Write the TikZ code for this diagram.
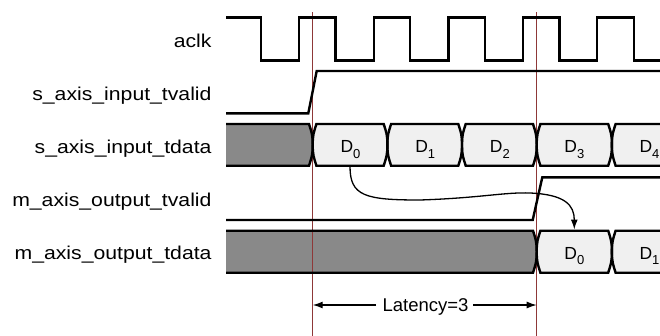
\documentclass[tikz,border=0pt]{standalone}
\usepackage{fontspec}
\setmainfont{Liberation Sans}
\usetikzlibrary{arrows.meta}
\definecolor{busgray}{HTML}{898989}
\definecolor{cellfill}{HTML}{F0F0F0}
\definecolor{markred}{HTML}{8E3838}
\newcommand{\buscell}[5]{%
 \pgfmathsetmacro{\bcM}{(#3+#4)/2}%
 \pgfmathsetmacro{\bcQ}{(#4-#3)/2}%
 \path[#5] (#1,\bcM) .. controls (#1,{\bcM-0.5*\bcQ}) and ({#1+1.1},{#3+0.4*\bcQ}) .. ({#1+3.7},#3)
 -- ({#2-3.7},#3) .. controls ({#2-1.1},{#3+0.4*\bcQ}) and (#2,{\bcM-0.5*\bcQ}) .. (#2,\bcM)
 .. controls (#2,{\bcM+0.5*\bcQ}) and ({#2-1.1},{#4-0.4*\bcQ}) .. ({#2-3.7},#4)
 -- ({#1+3.7},#4) .. controls ({#1+1.1},{#4-0.4*\bcQ}) and (#1,{\bcM+0.5*\bcQ}) .. (#1,\bcM) -- cycle;}
\newcommand{\busgrayfill}[4]{%
 \pgfmathsetmacro{\bcM}{(#3+#4)/2}%
 \pgfmathsetmacro{\bcQ}{(#4-#3)/2}%
 \path[fill=busgray] (#1,#3) -- ({#2-3.7},#3) .. controls ({#2-1.1},{#3+0.4*\bcQ}) and (#2,{\bcM-0.5*\bcQ}) .. (#2,\bcM)
 .. controls (#2,{\bcM+0.5*\bcQ}) and ({#2-1.1},{#4-0.4*\bcQ}) .. ({#2-3.7},#4) -- (#1,#4) -- cycle;}
\newcommand{\busgraydraw}[4]{%
 \pgfmathsetmacro{\bcM}{(#3+#4)/2}%
 \pgfmathsetmacro{\bcQ}{(#4-#3)/2}%
 \path[sig] (#1,#3) -- ({#2-3.7},#3) .. controls ({#2-1.1},{#3+0.4*\bcQ}) and (#2,{\bcM-0.5*\bcQ}) .. (#2,\bcM)
 .. controls (#2,{\bcM+0.5*\bcQ}) and ({#2-1.1},{#4-0.4*\bcQ}) .. ({#2-3.7},#4) -- (#1,#4);}
\newcommand{\Dsub}[1]{D\raisebox{-5.3bp}{\fontsize{13bp}{14bp}\selectfont #1}}
\tikzset{
 sig/.style={draw=black, line width=2.4bp, line join=miter},
 marker/.style={draw=markred, line width=1.5bp},
 siglabel/.style={anchor=base east, inner sep=0pt, font=\fontsize{18.6bp}{22bp}\selectfont},
 dlabel/.style={anchor=base, inner sep=0pt, font=\fontsize{17.5bp}{20bp}\selectfont},
 thinarrow/.style={draw=black, line width=1.3bp, -{Latex[length=10bp,width=7bp]}}
}
\begin{document}
\begin{tikzpicture}[x=1bp, y=-1bp]
\useasboundingbox (0,0) rectangle (660,335);
\clip (0,0) rectangle (660,335);

% labels
\node[siglabel] (lclk) at (211.7,47.3) {\scalebox{1.14}[1]{aclk}};
\node[siglabel] (lsv) at (211.7,100) {\scalebox{1.14}[1]{s\_axis\_input\_tvalid}};
\node[siglabel] (lsd) at (211.7,153) {\scalebox{1.14}[1]{s\_axis\_input\_tdata}};
\node[siglabel] (lmv) at (211.7,206.7) {\scalebox{1.14}[1]{m\_axis\_output\_tvalid}};
\node[siglabel] (lmd) at (211.7,259.5) {\scalebox{1.14}[1]{m\_axis\_output\_tdata}};

% fills
\busgrayfill{226}{312.7}{124}{165.7}
\buscell{312.7}{387.4}{124}{165.7}{fill=cellfill}
\buscell{387.4}{462.0}{124}{165.7}{fill=cellfill}
\buscell{462.0}{536.7}{124}{165.7}{fill=cellfill}
\buscell{536.7}{611.9}{124}{165.7}{fill=cellfill}
\buscell{611.9}{687}{124}{165.7}{fill=cellfill}
\busgrayfill{226}{536.7}{230.7}{272.7}
\buscell{536.7}{611.9}{230.7}{272.7}{fill=cellfill}
\buscell{611.9}{687}{230.7}{272.7}{fill=cellfill}

% red markers
\coordinate (m1t) at (312.7,12);
\coordinate (m1b) at (312.7,336);
\coordinate (m2t) at (536.7,12);
\coordinate (m2b) at (536.7,336);
\draw[marker] (m1t) -- (m1b);
\draw[marker] (m2t) -- (m2b);

% clock
\draw[sig] (226,17.5) -- (261,17.5) -- (261,60.5) -- (299,60.5) -- (299,17.5)
 -- (335.6,17.5) -- (335.6,60.5) -- (373.8,60.5) -- (373.8,17.5)
 -- (410.2,17.5) -- (410.2,60.5) -- (448.3,60.5) -- (448.3,17.5)
 -- (484.8,17.5) -- (484.8,60.5) -- (522.7,60.5) -- (522.7,17.5)
 -- (559.6,17.5) -- (559.6,60.5) -- (597.2,60.5) -- (597.2,17.5)
 -- (634,17.5) -- (634,60.5) -- (662,60.5);

% valids
\draw[sig] (226,113.3) -- (308.3,113.3) -- (316.7,71) -- (662,71);
\draw[sig] (226,220) -- (532.7,220) -- (542.3,177.3) -- (662,177.3);

% bus strokes
\busgraydraw{226}{312.7}{124}{165.7}
\buscell{312.7}{387.4}{124}{165.7}{sig}
\buscell{387.4}{462.0}{124}{165.7}{sig}
\buscell{462.0}{536.7}{124}{165.7}{sig}
\buscell{536.7}{611.9}{124}{165.7}{sig}
\buscell{611.9}{687}{124}{165.7}{sig}
\busgraydraw{226}{536.7}{230.7}{272.7}
\buscell{536.7}{611.9}{230.7}{272.7}{sig}
\buscell{611.9}{687}{230.7}{272.7}{sig}

% data labels
\node[dlabel] (sd0) at (350.5,152.7) {\Dsub{0}};
\node[dlabel] (sd1) at (425.2,152.7) {\Dsub{1}};
\node[dlabel] (sd2) at (499.8,152.7) {\Dsub{2}};
\node[dlabel] (sd3) at (574.3,152.7) {\Dsub{3}};
\node[dlabel] (sd4) at (649.5,152.7) {\Dsub{4}};
\node[dlabel] (md0) at (574.3,259.5) {\Dsub{0}};
\node[dlabel] (md1) at (649.5,259.5) {\Dsub{1}};

% data flow arrow
\coordinate (arrS) at (350,166.5);
\coordinate (arrE) at (574.3,229.5);
\draw[thinarrow] (arrS) .. controls (350,196) and (365,200) .. (420,200)
 .. controls (480,198) and (505,192) .. (530,193)
 .. controls (565,194.5) and (574.3,205) .. (arrE);

% latency
\node[anchor=base, inner sep=0pt, font=\fontsize{18.5bp}{22bp}\selectfont] (lat) at (425.5,311) {Latency=3};
\coordinate (latL) at (376,305);
\coordinate (latR) at (473,305);
\draw[thinarrow] (latL) -- (latL -| m1t);
\draw[thinarrow] (latR) -- (latR -| m2t);
\end{tikzpicture}
\end{document}
